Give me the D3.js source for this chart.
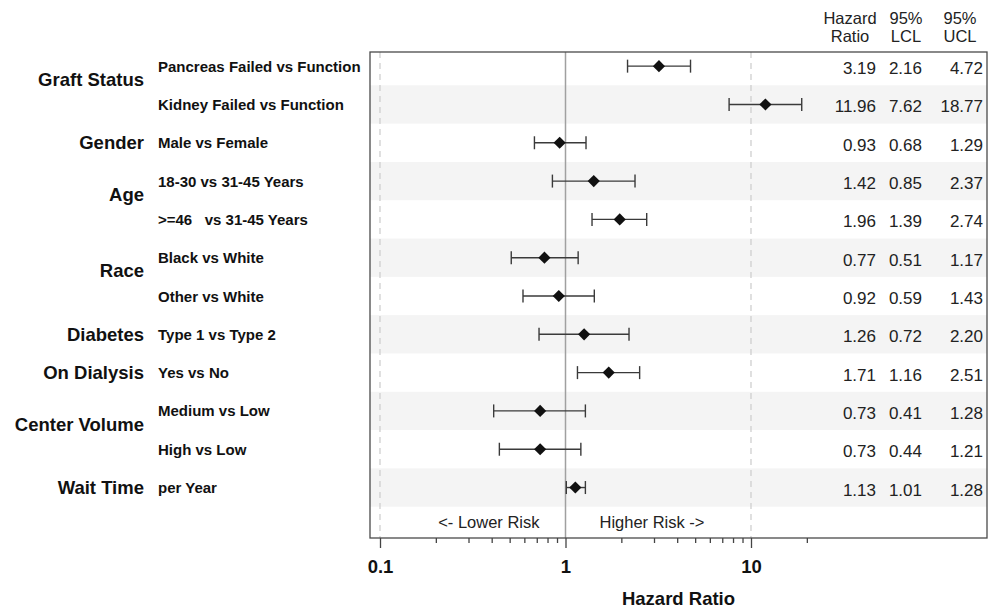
<!DOCTYPE html>
<html>
<head>
<meta charset="utf-8">
<script src="https://cdn.jsdelivr.net/npm/d3@7"></script>
<style>
  body { margin: 0; background: #fff; }
  svg { font-family: Arial, "Liberation Sans", sans-serif; }
</style>
</head>
<body>
<div id="chart"></div>
<script>
// forest plot data
const groupLabels = ["Graft Status", "Gender", "Age", "Race", "Diabetes", "On Dialysis", "Center Volume", "Wait Time"]
const groupSizes = [2, 1, 2, 2, 1, 1, 2, 1]
const comparisons = [
    "Pancreas Failed vs Function", "Kidney Failed vs Function", "Male vs Female",
    "18-30 vs 31-45 Years", ">=46   vs 31-45 Years", "Black vs White", "Other vs White",
    "Type 1 vs Type 2", "Yes vs No", "Medium vs Low", "High vs Low", "per Year"
]
const hr = [3.19, 11.96, 0.93, 1.42, 1.96, 0.77, 0.92, 1.26, 1.71, 0.73, 0.73, 1.13]
const lcl = [2.16, 7.62, 0.68, 0.85, 1.39, 0.51, 0.59, 0.72, 1.16, 0.41, 0.44, 1.01]
const ucl = [4.72, 18.77, 1.29, 2.37, 2.74, 1.17, 1.43, 2.20, 2.51, 1.28, 1.21, 1.28]
const majorTicks = [0.1, 1, 10]
const minorTicks = [0.2, 0.3, 0.4, 0.5, 0.6, 0.7, 0.8, 0.9, 2, 3, 4, 5, 6, 7, 8, 9, 20]
const refLines = [0.1, 10]

const width = 992
const height = 613
const boxLeft = 370, boxRight = 987, boxTop = 52, boxBottom = 538

const svg = d3.select('#chart').append('svg')
    .attr('width', width).attr('height', height)

const x = d3.scaleLog().domain([0.1, 10]).range([380, 751])
const y = d3.scaleBand().domain(d3.range(comparisons.length + 1)).range([47, 545])
const mid = i => y(i) + y.bandwidth() / 2
const fmt = d3.format('.2f')

// clip to the box
svg.append('clipPath').attr('id', 'box-clip')
    .append('rect').attr('x', boxLeft).attr('y', boxTop)
    .attr('width', boxRight - boxLeft).attr('height', boxBottom - boxTop)

const plot = svg.append('g').attr('clip-path', 'url(#box-clip)')

// alternate row shading
plot.selectAll('.band').data(comparisons.map((d, i) => i).filter(i => i % 2 === 1))
    .enter().append('rect')
    .attr('class', 'band')
    .attr('x', boxLeft).attr('width', boxRight - boxLeft)
    .attr('y', d => y(d)).attr('height', y.bandwidth())
    .attr('fill', '#f4f4f4')

plot.selectAll('.ref').data(refLines).enter().append('line')
    .attr('x1', d => x(d)).attr('x2', d => x(d))
    .attr('y1', boxTop).attr('y2', boxBottom)
    .attr('stroke', '#cfcfcf').attr('stroke-width', 1.3)
    .attr('stroke-dasharray', '6,5')

plot.append('line')
    .attr('x1', x(1)).attr('x2', x(1))
    .attr('y1', boxTop).attr('y2', boxBottom)
    .attr('stroke', '#a0a0a0').attr('stroke-width', 1.5)

// error bars
const bars = plot.selectAll('.ci').data(comparisons).enter().append('g').attr('class', 'ci')
bars.append('line')
    .attr('x1', (d, i) => x(lcl[i])).attr('x2', (d, i) => x(ucl[i]))
    .attr('y1', (d, i) => mid(i)).attr('y2', (d, i) => mid(i))
    .attr('stroke', '#3a3a3a').attr('stroke-width', 1.4)
bars.append('line')
    .attr('x1', (d, i) => x(lcl[i])).attr('x2', (d, i) => x(lcl[i]))
    .attr('y1', (d, i) => mid(i) - 6.5).attr('y2', (d, i) => mid(i) + 6.5)
    .attr('stroke', '#3a3a3a').attr('stroke-width', 1.4)
bars.append('line')
    .attr('x1', (d, i) => x(ucl[i])).attr('x2', (d, i) => x(ucl[i]))
    .attr('y1', (d, i) => mid(i) - 6.5).attr('y2', (d, i) => mid(i) + 6.5)
    .attr('stroke', '#3a3a3a').attr('stroke-width', 1.4)
bars.append('path')
    .attr('d', d3.symbol(d3.symbolSquare).size(74))
    .attr('transform', (d, i) => `translate(${x(hr[i])},${mid(i)}) rotate(45)`)
    .attr('fill', '#111')

// values columns
const cols = [
    { vals: hr, right: 876, head: ['Hazard', 'Ratio'], headX: 850 },
    { vals: lcl, right: 922, head: ['95%', 'LCL'], headX: 906 },
    { vals: ucl, right: 983, head: ['95%', 'UCL'], headX: 960 }
]
cols.forEach(c => {
    svg.append('g').selectAll('text').data(c.vals).enter().append('text')
        .attr('x', c.right).attr('y', (d, i) => mid(i) + 8)
        .attr('text-anchor', 'end')
        .attr('font-size', 17).attr('fill', '#222')
        .text(d => fmt(d))
    svg.append('g').selectAll('text').data(c.head).enter().append('text')
        .attr('x', c.headX).attr('y', (d, i) => 24 + i * 18)
        .attr('text-anchor', 'middle')
        .attr('font-size', 16.5).attr('fill', '#222')
        .text(d => d)
})

// risk direction labels
const riskRow = comparisons.length
svg.append('text').attr('x', x(1) - 26).attr('y', mid(riskRow) + 2.5)
    .attr('text-anchor', 'end').attr('font-size', 16.5).attr('fill', '#222')
    .text('<- Lower Risk')
svg.append('text').attr('x', x(1) + 34).attr('y', mid(riskRow) + 2.5)
    .attr('text-anchor', 'start').attr('font-size', 16.5).attr('fill', '#222')
    .text('Higher Risk ->')

// box
svg.append('rect')
    .attr('x', boxLeft).attr('y', boxTop)
    .attr('width', boxRight - boxLeft).attr('height', boxBottom - boxTop)
    .attr('fill', 'none').attr('stroke', '#4a4a4a').attr('stroke-width', 1.3)

// row labels
svg.append('g').selectAll('text').data(comparisons).enter().append('text')
    .attr('x', 158).attr('y', (d, i) => mid(i) + 5.5)
    .attr('font-size', 15).attr('font-weight', 'bold').attr('fill', '#111')
    .style('white-space', 'pre')
    .text(d => d)

let start = 0
const groupPos = groupSizes.map(n => {
    const rows = d3.range(start, start + n)
    start += n
    return d3.mean(rows, mid) - (n > 1 ? 6 : 0)
})
svg.append('g').selectAll('text').data(groupLabels).enter().append('text')
    .attr('x', 144).attr('y', (d, i) => groupPos[i] + 6.5)
    .attr('text-anchor', 'end')
    .attr('font-size', 18.5).attr('font-weight', 'bold').attr('fill', '#111')
    .text(d => d)

// x axis
const axisMajor = svg.append('g').attr('transform', `translate(0,${boxBottom})`)
    .call(d3.axisBottom(x).tickValues(majorTicks).tickSize(10).tickPadding(12)
        .tickFormat(d => d3.format('~g')(d)))
axisMajor.select('.domain').remove()
axisMajor.selectAll('line').attr('stroke', '#444').attr('stroke-width', 1.3)
axisMajor.selectAll('text').attr('font-size', 18.5).attr('font-weight', 'bold')
    .attr('fill', '#111').attr('font-family', 'Arial, "Liberation Sans", sans-serif')

const axisMinor = svg.append('g').attr('transform', `translate(0,${boxBottom})`)
    .call(d3.axisBottom(x).tickValues(minorTicks).tickSize(5).tickFormat(''))
axisMinor.select('.domain').remove()
axisMinor.selectAll('line').attr('stroke', '#444').attr('stroke-width', 1.3)

svg.append('text')
    .attr('x', (boxLeft + boxRight) / 2).attr('y', 605)
    .attr('text-anchor', 'middle')
    .attr('font-size', 18.5).attr('font-weight', 'bold').attr('fill', '#111')
    .text('Hazard Ratio')
</script>
</body>
</html>
